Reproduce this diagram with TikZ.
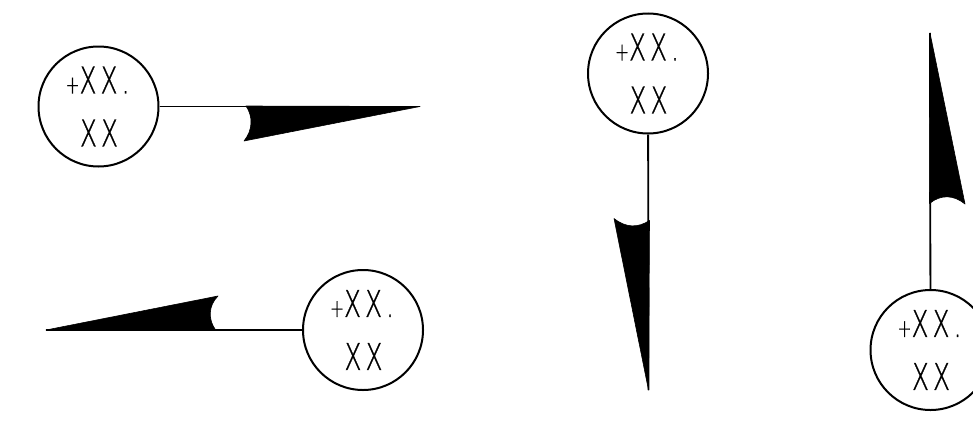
\documentclass[tikz,border=0pt]{standalone}
\usepackage{fontspec}
\setmainfont{DejaVu Sans ExtraLight}[FakeStretch=0.67,LetterSpace=11,FakeBold=0.7]
\newcommand{\dialtext}{{\fontsize{25pt}{49pt}\selectfont +}XX.\kern2pt\\[4pt]\hspace*{1pt}XX}
\tikzstyle{dial}=[
        draw,
        circle,
        line width=2pt,
        minimum size=120pt,
        inner sep=0pt,
        align=center,
        font=\fontsize{37pt}{49pt}\selectfont
]
\tikzstyle{needle}=[
        line width=1.8pt
]
\tikzstyle{vane}=[
        fill=black,
        draw=black,
        line width=0.6pt,
        line join=round
]

\begin{document}
\begin{tikzpicture}[x=1pt,y=-1pt]
                        \useasboundingbox (0,0) rectangle (973,431);
                        \clip (0,0) rectangle (973,431);

                        \node[dial] (dialA) at (98.5,106.5) {\dialtext};
                        \node[dial] (dialB) at (363,330) {\dialtext};
                        \node[dial] (dialC) at (648,73.5) {\dialtext};
                        \node[dial] (dialD) at (930.5,350) {\dialtext};

                        \coordinate (tipA) at (420,106.5);
                        \coordinate (tipB) at (46,330);
                        \coordinate (tipC) at (648.5,390);
                        \coordinate (tipD) at (930,33);

                        \draw[needle] (dialA) -- (tipA);
                        \draw[needle] (dialB) -- (tipB);
                        \draw[needle] (dialC) -- (tipC);
                        \draw[needle] (dialD) -- (tipD);

                        \filldraw[vane] (246,106) .. controls (253,116) and (253,130) .. (244,141) -- (tipA) -- cycle;
                        \filldraw[vane] (218,296) .. controls (208,306) and (208,320) .. (216,330.5) -- (tipB) -- cycle;
                        \filldraw[vane] (649.5,220.5) .. controls (638,228) and (626,228) .. (614,218.5) -- (tipC) -- cycle;
                        \filldraw[vane] (929.5,203.5) .. controls (941,194) and (954,195) .. (965,204) -- (tipD) -- cycle;
                    \end{tikzpicture}
\end{document}
